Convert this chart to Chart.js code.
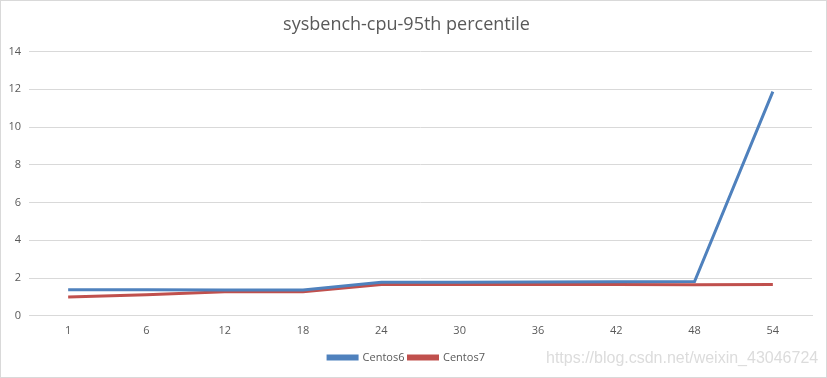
<!DOCTYPE html>
<html>
<head>
<meta charset="utf-8">
<script src="https://cdn.jsdelivr.net/npm/chart.js@4/dist/chart.umd.min.js"></script>
<style>
  body { margin: 0; background: #fff; }
  #wrap { position: relative; width: 827px; height: 378px; box-sizing: border-box; border: 1px solid #d9d9d9; }
  #c { display: block; }
  #mark { position: absolute; left: 545px; top: 348px; font-family: "Liberation Sans", Arial, sans-serif; font-size: 16px; color: #dcdcdc; }
</style>
</head>
<body>
<div id="wrap">
  <canvas id="c" width="825" height="376"></canvas>
  <div id="mark">https://blog.csdn.net/weixin_43046724</div>
</div>
<script>
// 横軸のカテゴリ（スレッド数）
var labels = ["1", "6", "12", "18", "24", "30", "36", "42", "48", "54"];
// 各系列の値
var centos6 = [1.38, 1.38, 1.37, 1.37, 1.78, 1.78, 1.79, 1.81, 1.82, 11.88];
var centos7 = [1.0, 1.12, 1.27, 1.27, 1.66, 1.66, 1.66, 1.66, 1.65, 1.66];
// 縦軸の目盛り
var yMin = 0, yMax = 14, yStep = 2;

var textColor = "#595959";
var gridColor = "#d9d9d9";
var font = "'Open Sans', 'Liberation Sans', sans-serif";

var ctx = document.getElementById("c");
var myChart = new Chart(ctx, {
  type: 'line',
  data: {
    labels: labels,
    datasets: [
      {
        label: "Centos6",
        data: centos6,
        borderColor: "#4F81BD",
        backgroundColor: "#4F81BD",
        borderWidth: 3,
        pointRadius: 0,
        lineTension: 0
      },
      {
        label: "Centos7",
        data: centos7,
        borderColor: "#C0504D",
        backgroundColor: "#C0504D",
        borderWidth: 3,
        pointRadius: 0,
        lineTension: 0
      }
    ]
  },
  options: {
    responsive: false,
    animation: false,
    layout: { padding: { left: 0, right: 14, top: 7, bottom: 4 } },
    plugins: {
      title: {
        display: true,
        text: "sysbench-cpu-95th percentile",
        color: textColor,
        font: { family: font, size: 18, weight: 'normal' },
        padding: { top: 6, bottom: 16 }
      },
      legend: {
        position: 'bottom',
        labels: {
          color: textColor,
          font: { family: font, size: 11 },
          boxWidth: 29,
          boxHeight: 3,
          padding: 4
        }
      },
      tooltip: { enabled: false }
    },
    scales: {
      x: {
        offset: true,
        grid: { display: false },
        border: { color: gridColor },
        ticks: { color: textColor, font: { family: font, size: 11 }, padding: 0 },
        afterFit: function (axis) { axis.height += 11; }
      },
      y: {
        min: yMin,
        max: yMax,
        ticks: { stepSize: yStep, color: textColor, font: { family: font, size: 11 }, padding: 8 },
        grid: { color: gridColor, drawTicks: false },
        border: { display: false },
        afterFit: function (axis) { axis.width = 28; }
      }
    }
  }
});
</script>
</body>
</html>
